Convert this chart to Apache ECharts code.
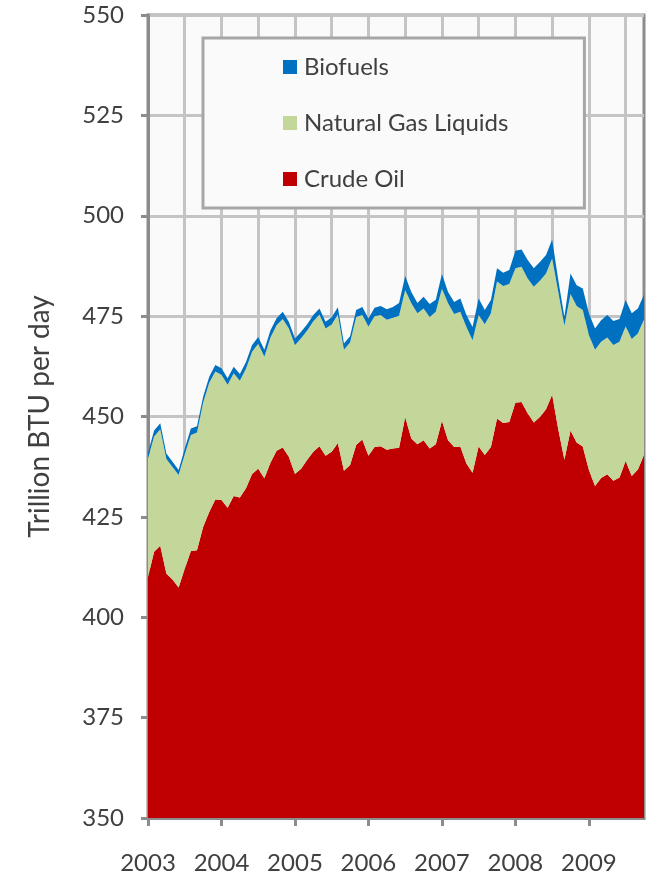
<!DOCTYPE html>
<html>
<head>
<meta charset="utf-8">
<script src="https://cdn.jsdelivr.net/npm/echarts@6/dist/echarts.min.js"></script>
<style>
  html, body { margin: 0; padding: 0; background: #fff; }
  #chart { width: 651px; height: 878px; }
</style>
</head>
<body>
<div id="chart"></div>
<script>
// monthly, Jan 2003 .. Oct 2009
const months = [];
for (let y = 2003; y <= 2009; y++) {
  for (let m = 1; m <= 12; m++) {
    if (y === 2009 && m > 10) break;
    months.push(y + '-' + (m < 10 ? '0' + m : m));
  }
}

const crudeOil = [
  410, 416.3, 417.8, 410.9, 409.4, 407.4, 412.1, 416.5, 416.7, 422.5, 426.2, 429.3,
  429.2, 427.3, 430.2, 429.8, 432.1, 435.7, 437, 434.6, 438.5, 441.5, 442.3, 440,
  435.7, 437, 439.2, 441.2, 442.6, 440.2, 441.2, 443.4, 436.5, 437.9, 442.9, 444.3,
  440.2, 442.4, 442.6, 441.7, 442, 442.2, 449.8, 444.5, 443.1, 444.1, 442, 443.1,
  448.9, 444.1, 442.4, 442.5, 438.3, 436, 442.5, 440.4, 442.4, 449.5, 448.4, 448.6,
  453.4, 453.6, 450.8, 448.5, 449.9, 451.8, 455.4, 446.8, 439.2, 446.5, 443.5, 442.5,
  436.7, 432.7, 434.7, 435.6, 434, 434.8, 438.9, 435.2, 436.8, 440.4
];
const naturalGasLiquids = [
  29.6, 28.7, 29.0, 28.5, 28.0, 28.0, 28.5, 28.9, 29.3, 30.9, 32.2, 31.9,
  31.2, 30.6, 30.6, 29.1, 29.8, 30.4, 31.1, 30.3, 31.2, 31.2, 32.0, 31.9,
  32.1, 32.5, 32.2, 32.5, 32.8, 31.7, 31.7, 32.0, 30.1, 30.5, 31.9, 31.0,
  32.2, 32.6, 32.7, 32.4, 32.6, 32.9, 31.7, 33.7, 32.6, 32.8, 32.8, 33,
  33, 34.1, 33.1, 33.6, 34, 33, 32.8, 32.6, 33.3, 34.1, 34.1, 34.4,
  33.5, 33.7, 33.6, 33.8, 33.9, 33.8, 34, 34.2, 33.4, 34, 34, 34,
  33.6, 33.9, 33.9, 34.1, 33.8, 33.8, 33.6, 34.1, 33.9, 33.8
];
const biofuels = [
  1.4, 1.5, 1.5, 1.4, 1.3, 1.3, 1.4, 1.6, 1.6, 1.5, 1.5, 1.6,
  1.6, 1.6, 1.6, 1.7, 1.7, 1.7, 1.7, 1.7, 1.8, 1.8, 1.8, 1.7,
  1.6, 1.6, 1.6, 1.6, 1.5, 1.7, 1.8, 1.8, 1.6, 1.6, 1.7, 2.0,
  2.0, 2.1, 2.2, 2.6, 2.7, 3.2, 3.5, 2.8, 2.6, 2.9, 3.2, 3.0,
  3.6, 2.8, 3.0, 3.3, 3.0, 3.3, 4.1, 3.5, 3.3, 3.3, 3.3, 3.5,
  4.4, 4.3, 4.6, 4.6, 4.7, 4.6, 4.7, 3.0, 2.2, 5.1, 5.2, 5.4,
  5.4, 5.3, 5.4, 5.6, 6.0, 5.7, 6.5, 6.4, 6.2, 6.1
];

const FONT = 'Lato';
const TEXT = '#404040';
const AXIS = '#8c8c8c';
const GRIDLINE = '#c4c4c4';

const chart = echarts.init(document.getElementById('chart'));

function areaSeries(name, data, color) {
  return {
    name: name,
    type: 'line',
    stack: 'supply',
    data: data,
    showSymbol: false,
    symbol: 'none',
    lineStyle: { width: 0 },
    areaStyle: { color: color, opacity: 1 },
    itemStyle: { color: color },
    emphasis: { disabled: true },
    silent: true
  };
}

chart.setOption({
  animation: false,
  backgroundColor: '#ffffff',
  textStyle: { fontFamily: FONT, color: TEXT },
  grid: {
    left: 148, right: 7, top: 15, bottom: 60,
    show: true, backgroundColor: '#fafafa',
    borderColor: AXIS, borderWidth: 3
  },
  legend: {
    data: ['Biofuels', 'Natural Gas Liquids', 'Crude Oil'],
    orient: 'vertical',
    left: 203, top: 38,
    padding: [17, 76, 17, 80],
    itemGap: 32,
    itemWidth: 14, itemHeight: 14,
    icon: 'rect',
    backgroundColor: '#fafafa',
    borderColor: '#a6a6a6', borderWidth: 3,
    textStyle: { fontFamily: FONT, fontSize: 24, color: TEXT, padding: [0, 0, 0, 2] },
    selectedMode: false
  },
  xAxis: {
    type: 'category',
    data: months,
    boundaryGap: false,
    axisLine: { lineStyle: { color: AXIS, width: 3 } },
    axisTick: {
      length: 8, lineStyle: { color: AXIS, width: 3 },
      interval: function (i) { return i % 12 === 0; }
    },
    axisLabel: {
      margin: 33, fontSize: 24, color: TEXT, fontFamily: FONT,
      interval: function (i) { return i % 12 === 0; },
      formatter: function (v) { return v.slice(0, 4); }
    },
    splitLine: {
      show: true,
      interval: function (i) { return i % 6 === 0 && i > 0; },
      lineStyle: { color: GRIDLINE, width: 3 }
    }
  },
  yAxis: {
    type: 'value',
    min: 350, max: 550, interval: 25,
    name: 'Trillion BTU per day',
    nameLocation: 'middle',
    nameGap: 94,
    nameTextStyle: { fontSize: 28, color: TEXT, fontFamily: FONT },
    axisLine: { show: true, lineStyle: { color: AXIS, width: 3 } },
    axisTick: { show: true, length: 7, lineStyle: { color: AXIS, width: 3 } },
    axisLabel: { margin: 24, fontSize: 24, color: TEXT, fontFamily: FONT },
    splitLine: { show: true, lineStyle: { color: GRIDLINE, width: 3 } }
  },
  series: [
    areaSeries('Crude Oil', crudeOil, '#c00000'),
    areaSeries('Natural Gas Liquids', naturalGasLiquids, '#c4d79b'),
    areaSeries('Biofuels', biofuels, '#0070c0')
  ]
});
</script>
</body>
</html>
